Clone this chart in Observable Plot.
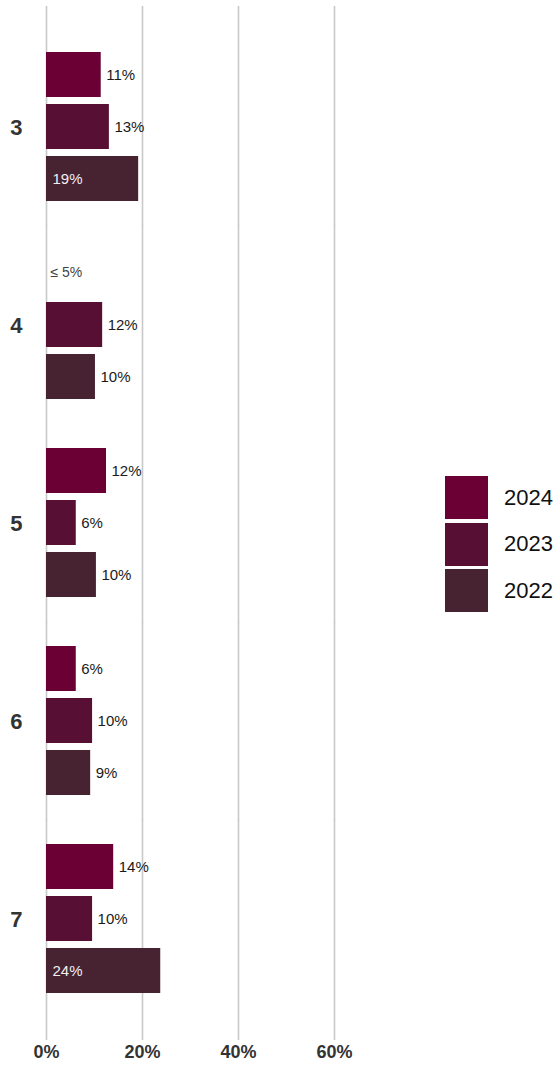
<!DOCTYPE html>
<html>
<head>
<meta charset="utf-8">
<script src="https://cdn.jsdelivr.net/npm/d3@7"></script>
<script src="https://cdn.jsdelivr.net/npm/@observablehq/plot@0.6"></script>
<style>
  html, body { margin: 0; padding: 0; background: #fff; }
  #wrap { position: relative; width: 556px; height: 1067px; font-family: "Liberation Sans", Arial, sans-serif; }
  #legend { position: absolute; left: 445px; top: 476px; }
  .li { display: flex; align-items: center; height: 43px; margin-bottom: 3.5px; }
  .sw { width: 43px; height: 43px; }
  .lt { margin-left: 16px; font-size: 22px; color: #111; }
</style>
</head>
<body>
<div id="wrap"><div id="chart"></div><div id="legend"></div></div>
<script>
const groups = ["3", "4", "5", "6", "7"];
const years = ["2024", "2023", "2022"];
const colors = ["#6a0033", "#570f33", "#472332"];
const values2024 = [11.4, null, 12.5, 6.2, 14.0];
const values2023 = [13.1, 11.7, 6.2, 9.6, 9.6];
const values2022 = [19.2, 10.2, 10.4, 9.2, 23.8];
const labels2024 = ["11%", "≤ 5%", "12%", "6%", "14%"];
const labels2023 = ["13%", "12%", "6%", "10%", "10%"];
const labels2022 = ["19%", "10%", "10%", "9%", "24%"];
const xTicks = [0, 20, 40, 60];

const series = [values2024, values2023, values2022];
const labels = [labels2024, labels2023, labels2022];
const data = [];
groups.forEach((g, i) => years.forEach((y, j) => {
  data.push({group: g, year: y, value: series[j][i], label: labels[j][i]});
}));
const bars = data.filter(d => d.value != null);
const outside = data.filter(d => d.value != null && d.value < 15);
const inside = data.filter(d => d.value != null && d.value >= 15);
const small = data.filter(d => d.value == null);
const first = groups[0], last = groups[groups.length - 1];
const gridFirst = xTicks.map(t => ({group: first, x: t}));
const gridMid = groups.slice(1, -1).flatMap(g => xTicks.map(t => ({group: g, x: t})));
const gridLast = xTicks.map(t => ({group: last, x: t}));
const tickLabels = xTicks.map(t => ({group: last, x: t}));

const gridStyle = {x: "x", fy: "group", stroke: "#c8c8c8", strokeWidth: 1.6};

const chart = Plot.plot({
  width: 556,
  height: 1067,
  marginLeft: 46,
  marginRight: 210,
  marginTop: 5,
  marginBottom: 27,
  style: {fontFamily: "'Liberation Sans', Arial, sans-serif", background: "#fff"},
  x: {domain: [0, 62.5], axis: null},
  y: {domain: years, paddingInner: 0.13, paddingOuter: 0, axis: null},
  fy: {domain: groups, paddingInner: 0.234, paddingOuter: 0.224, axis: null},
  color: {domain: years, range: colors},
  marks: [
    Plot.ruleX(gridFirst, {...gridStyle, insetTop: -45, insetBottom: -23.3}),
    Plot.ruleX(gridMid, {...gridStyle, insetTop: -23.3, insetBottom: -23.3}),
    Plot.ruleX(gridLast, {...gridStyle, insetTop: -23.3, insetBottom: -45}),
    Plot.barX(bars, {x: "value", y: "year", fy: "group", fill: "year"}),
    Plot.text(outside, {x: "value", y: "year", fy: "group", text: "label", textAnchor: "start", dx: 5, fontSize: 15, fill: "#1a1a1a"}),
    Plot.text(inside, {x: 0, y: "year", fy: "group", text: "label", textAnchor: "start", dx: 6, fontSize: 15, fill: "#f2eef0"}),
    Plot.text(small, {x: 0, y: "year", fy: "group", text: "label", textAnchor: "start", dx: 4, fontSize: 14, fill: "#444"}),
    Plot.axisFy({anchor: "left", tickSize: 0, tickPadding: 24, fontSize: 22, fontWeight: "bold", color: "#333", label: null}),
    Plot.text(tickLabels, {x: "x", fy: "group", text: d => d.x + "%", frameAnchor: "bottom", dy: 62, fontSize: 18, fontWeight: "bold", fill: "#333"})
  ]
});
document.getElementById("chart").appendChild(chart);

const legend = document.getElementById("legend");
years.forEach((y, j) => {
  const row = document.createElement("div");
  row.className = "li";
  row.innerHTML = `<div class="sw" style="background:${colors[j]}"></div><span class="lt">${y}</span>`;
  legend.appendChild(row);
});
</script>
</body>
</html>
